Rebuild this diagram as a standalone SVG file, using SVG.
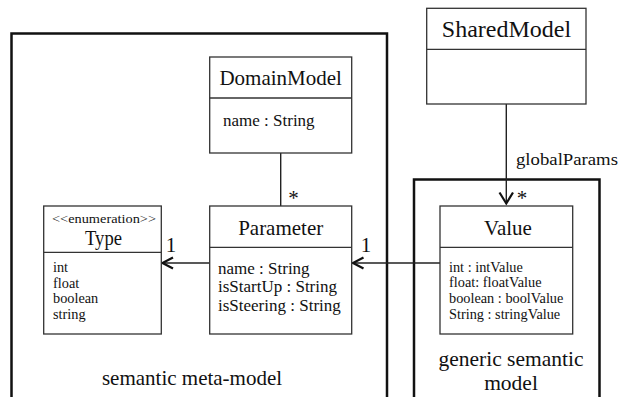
<svg xmlns="http://www.w3.org/2000/svg" width="619" height="397" viewBox="0 0 619 397">
<defs>
<style>
.container{fill:none;stroke:#111;stroke-width:2.5}
.box{fill:#fff;stroke:#333;stroke-width:1.3}
text{font-family:'Liberation Serif','DejaVu Serif',serif;fill:#111}
.title{font-size:21px;text-anchor:middle}
.attr{font-size:17px}
.small{font-size:14.3px}
.st{font-size:12px;text-anchor:middle}
.lbl{font-size:21px;text-anchor:middle}
.conn{fill:none;stroke:#222;stroke-width:1.4}
.head{fill:none;stroke:#111;stroke-width:2.2}
</style>
</defs>
<rect width="619" height="397" fill="#fff"/>
<g id="semantic-meta-model">
<path class="container" d="M11.5,400 V33.5 H387 V400"/>
<text class="lbl" x="192" y="385">semantic meta-model</text>
</g>
<g id="generic-semantic-model">
<path class="container" d="M414,400 V179.5 H599.5 V400"/>
<text class="lbl" x="511" y="366" style="font-size:21.5px">generic semantic</text>
<text class="lbl" x="511" y="390" style="font-size:21.5px">model</text>
</g>
<g id="connectors">
<line class="conn" x1="280.7" y1="153" x2="280.7" y2="206"/>
<text class="lbl" x="293.5" y="205">*</text>
<line class="conn" x1="209.7" y1="263" x2="162" y2="263"/>
<path class="head" d="M173,257.5 L162.5,263 L173,268.5"/>
<text class="lbl" x="171" y="252">1</text>
<line class="conn" x1="440" y1="263" x2="352.5" y2="263"/>
<path class="head" d="M363.5,257.5 L353,263 L363.5,268.5"/>
<text class="lbl" x="366" y="252">1</text>
<line class="conn" x1="506.3" y1="104" x2="506.3" y2="204"/>
<path class="head" d="M499.5,192.5 L506.3,203.5 L513,192.5"/>
<text class="attr" x="516" y="165" textLength="102" lengthAdjust="spacingAndGlyphs">globalParams</text>
<text class="lbl" x="522" y="205">*</text>
</g>
<g id="DomainModel">
<rect class="box" x="209.7" y="57" width="142" height="96"/>
<line class="box" x1="209.7" y1="98" x2="351.7" y2="98"/>
<text class="title" x="280.7" y="85">DomainModel</text>
<text class="attr" x="223" y="126">name : String</text>
</g>
<g id="Parameter">
<rect class="box" x="209.7" y="206" width="142" height="128"/>
<line class="box" x1="209.7" y1="247.3" x2="351.7" y2="247.3"/>
<text class="title" x="280.7" y="234.5">Parameter</text>
<text class="attr" x="218" y="273.5">name : String</text>
<text class="attr" x="218" y="292">isStartUp : String</text>
<text class="attr" x="218" y="310.5">isSteering : String</text>
</g>
<g id="Type">
<rect class="box" x="43.7" y="206" width="117.6" height="128"/>
<line class="box" x1="43.7" y1="252.3" x2="161.3" y2="252.3"/>
<text class="st" x="104" y="223.3" textLength="104" lengthAdjust="spacingAndGlyphs">&lt;&lt;enumeration&gt;&gt;</text>
<text class="title" x="103.5" y="244.5" style="font-size:20px" textLength="37" lengthAdjust="spacingAndGlyphs">Type</text>
<text class="small" x="53" y="271.5">int</text>
<text class="small" x="53" y="287.5">float</text>
<text class="small" x="53" y="303.3">boolean</text>
<text class="small" x="53" y="319.3">string</text>
</g>
<g id="SharedModel">
<rect class="box" x="426.7" y="8.3" width="159.3" height="95.7"/>
<line class="box" x1="426.7" y1="49.3" x2="586" y2="49.3"/>
<text class="title" x="506.5" y="37.3" style="font-size:24px">SharedModel</text>
</g>
<g id="Value">
<rect class="box" x="440" y="206" width="132.7" height="128"/>
<line class="box" x1="440" y1="247.3" x2="572.7" y2="247.3"/>
<text class="title" x="508" y="235">Value</text>
<text class="small" x="449" y="271.5">int : intValue</text>
<text class="small" x="449" y="287">float: floatValue</text>
<text class="small" x="449" y="302.5">boolean : boolValue</text>
<text class="small" x="449" y="319">String : stringValue</text>
</g>
</svg>
